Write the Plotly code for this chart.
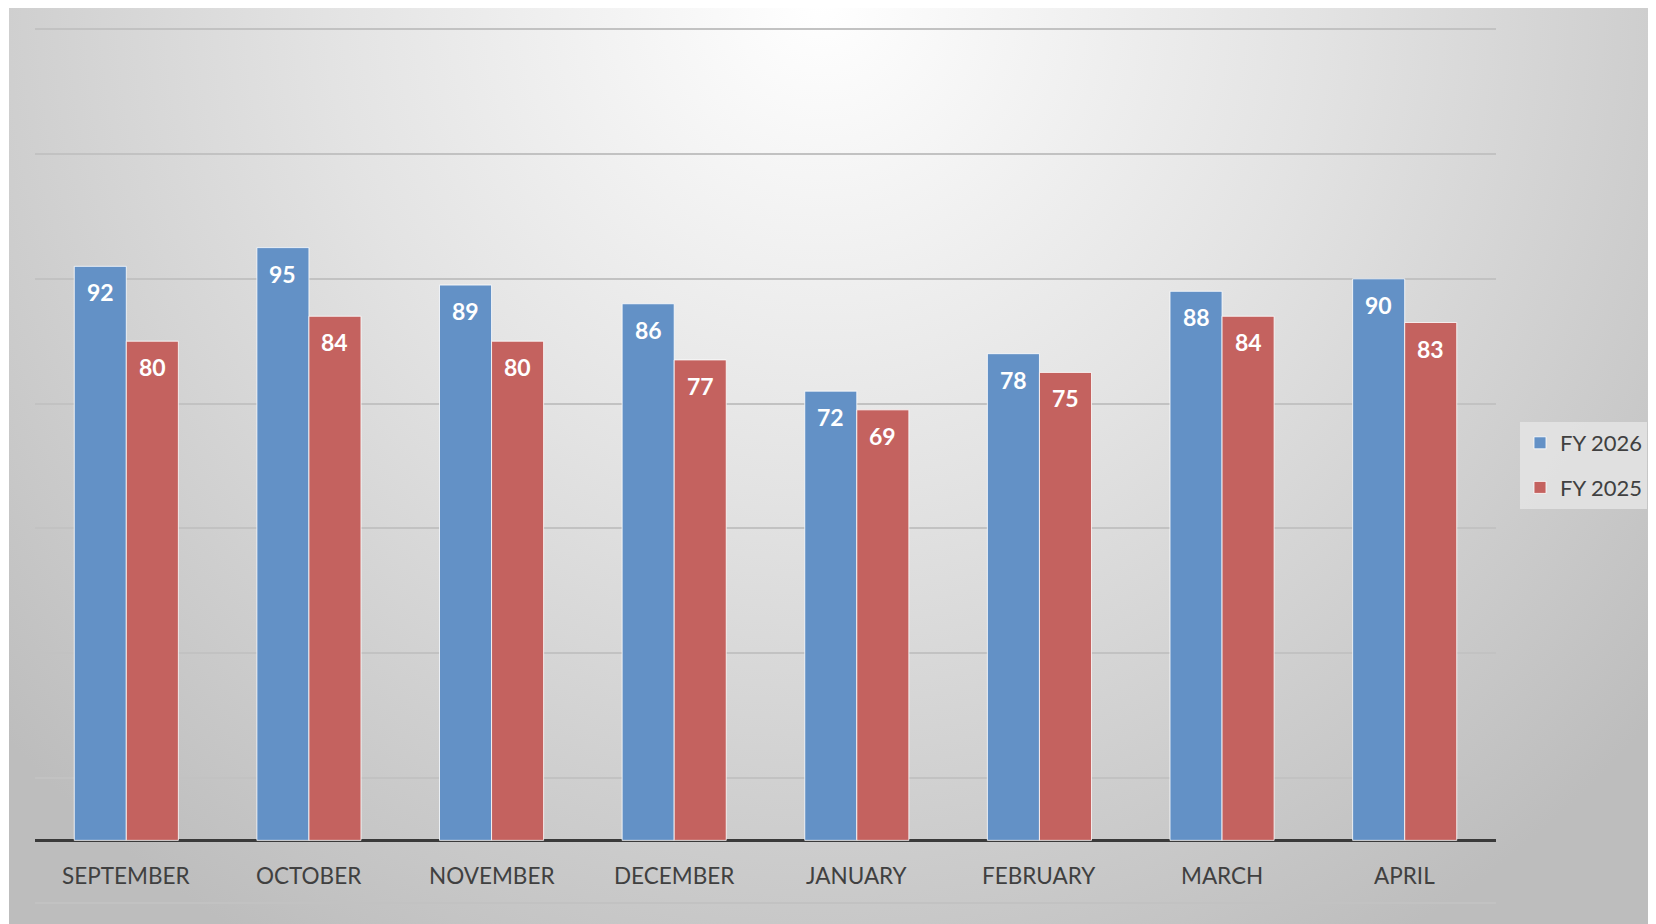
import base64
import plotly.graph_objects as go

meses = ["SEPTEMBER", "OCTOBER", "NOVEMBER", "DECEMBER", "JANUARY", "FEBRUARY", "MARCH", "APRIL"]
fy_2026 = [92, 95, 89, 86, 72, 78, 88, 90]
fy_2025 = [80, 84, 80, 77, 69, 75, 84, 83]

AZUL = "#6391C6"
VERMELHO = "#C4625F"
FONTE = "Lato"

# o body da página tem 8px de margem: a figura começa em (8, 8)
OFF = 8
W, H = 1656 - OFF, 924 - OFF
M_L, M_T = 35 - OFF, 28 - OFF
M_R = W - (1496 - OFF)
M_B = H - (904 - OFF)

pw = W - M_L - M_R
ph = H - M_T - M_B

# fundo com gradiente radial (svg embutido)
bw, bh = W - 1, H
svg = (
    f'<svg xmlns="http://www.w3.org/2000/svg" width="{bw}" height="{bh}" viewBox="0 0 {bw} {bh}" preserveAspectRatio="none">'
    '<defs><radialGradient id="g" gradientUnits="userSpaceOnUse" cx="812" cy="-8" r="1100">'
    '<stop offset="0" stop-color="#FFFFFF"/><stop offset="0.45" stop-color="#E3E3E3"/>'
    '<stop offset="1" stop-color="#BDBDBD"/></radialGradient></defs>'
    f'<rect x="0" y="0" width="{bw}" height="{bh}" fill="url(#g)"/>'
    '</svg>'
)
fundo = "data:image/svg+xml;base64," + base64.b64encode(svg.encode()).decode()

fig = go.Figure()
fig.add_trace(go.Bar(x=meses, y=fy_2026, name="FY 2026", legendgroup="a",
                     marker=dict(color=AZUL, line=dict(color="rgba(255,255,255,0.8)", width=1))))
fig.add_trace(go.Bar(x=meses, y=fy_2025, name="FY 2025", legendgroup="b",
                     marker=dict(color=VERMELHO, line=dict(color="rgba(255,255,255,0.8)", width=1))))

# rótulos de dados dentro das barras
anotacoes = []
for serie, desloc in ((fy_2026, -26), (fy_2025, 26)):
    for mes, v in zip(meses, serie):
        anotacoes.append(dict(x=mes, y=v, text=f"<b>{v}</b>", showarrow=False,
                              xshift=desloc, yshift=-26, yanchor="middle",
                              font=dict(family=FONTE, size=23, color="white")))
# rótulos das categorias
for mes in meses:
    anotacoes.append(dict(x=mes, y=-5.6, text=mes, showarrow=False, yanchor="middle",
                          font=dict(family=FONTE, size=22.5, color="#404040")))

fig.update_layout(
    width=W, height=H,
    margin=dict(l=M_L, r=M_R, t=M_T, b=M_B, autoexpand=False),
    paper_bgcolor="white",
    plot_bgcolor="rgba(0,0,0,0)",
    barmode="group",
    bargap=0.43,
    bargroupgap=0,
    font=dict(family=FONTE, color="#404040"),
    showlegend=True,
    legend=dict(x=(1520 - OFF - M_L) / pw, y=1 - (422 - OFF - M_T) / ph, xanchor="left", yanchor="top",
                bgcolor="rgba(228,228,228,0.85)", font=dict(family=FONTE, size=22, color="#404040"),
                traceorder="grouped", tracegroupgap=13),
    annotations=anotacoes,
    images=[dict(source=fundo, xref="paper", yref="paper",
                 x=(1 - M_L) / pw, y=1 + M_T / ph,
                 sizex=bw / pw, sizey=bh / ph,
                 sizing="stretch", layer="below", xanchor="left", yanchor="top")],
)
fig.update_xaxes(showticklabels=False, showgrid=False, zeroline=False, showline=False, ticks="")
fig.update_yaxes(range=[-10.2, 130.2], tick0=-10, dtick=20, showticklabels=False, ticks="",
                 showgrid=True, gridcolor="#C2C2C2", gridwidth=1.5,
                 zeroline=True, zerolinecolor="#3A3A3A", zerolinewidth=3, showline=False)

fig.write_html("out.html")
